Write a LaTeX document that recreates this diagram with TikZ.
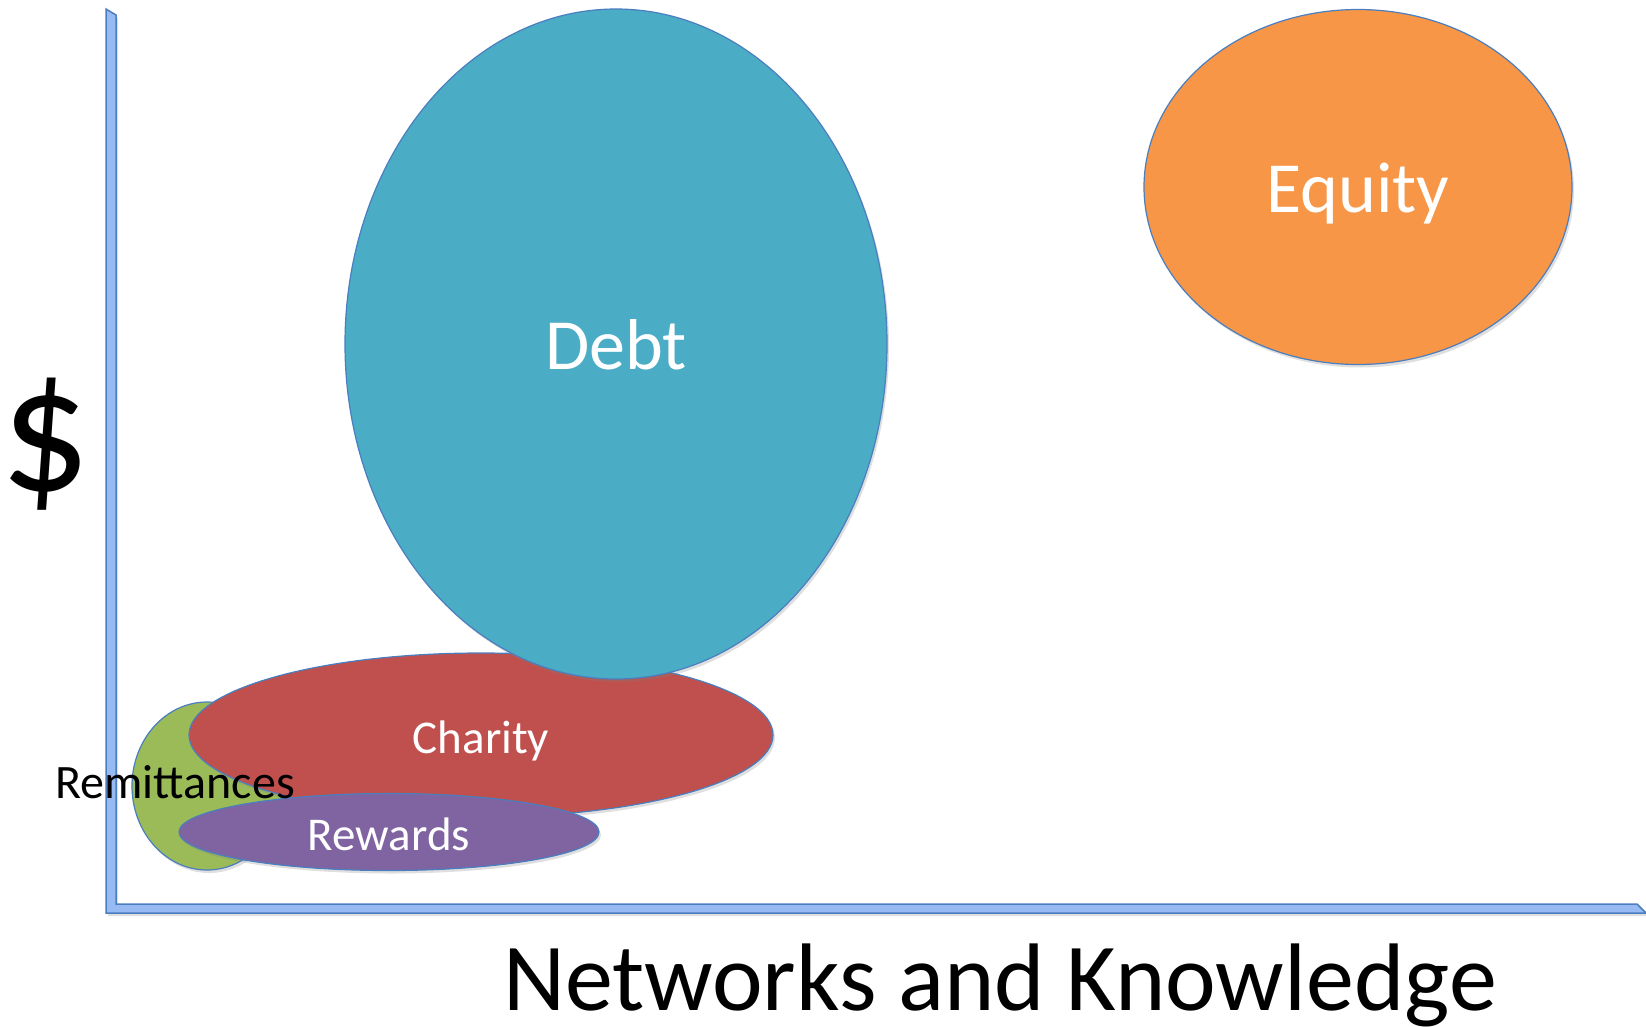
\documentclass[tikz,border=0pt]{standalone}
\usepackage{fontspec}
\setmainfont{Carlito}
\usetikzlibrary{shapes.geometric,shadows}
\definecolor{axisfill}{HTML}{98BAF2}
\definecolor{outline}{HTML}{4A7EBF}
\definecolor{debtblue}{HTML}{4BACC6}
\definecolor{equityorange}{HTML}{F79646}
\definecolor{charityred}{HTML}{C0504D}
\definecolor{rewardpurple}{HTML}{8064A2}
\definecolor{remitgreen}{HTML}{9BBB59}
\begin{document}
\begin{tikzpicture}[x=1pt,y=-1pt,
    blob/.style={ellipse, draw=outline, line width=1.2pt, inner sep=0pt, text=white,
      drop shadow={opacity=0.25, shadow xshift=2pt, shadow yshift=-3pt}},
    bigtext/.style={font=\fontsize{72}{80}\selectfont, text height=51pt, text depth=0pt},
    smalltext/.style={font=\fontsize{47}{52}\selectfont, text height=37pt, text depth=0pt}]
  \useasboundingbox (0,0) rectangle (1646,1026);
  % axes
  \filldraw[fill=axisfill, draw=outline, line width=1.5pt,
    drop shadow={opacity=0.25, shadow xshift=2pt, shadow yshift=-3pt}]
    (106,9) -- (116,15) -- (116,904) -- (1637,904) -- (1646,913) -- (106,913) -- cycle;
  % funding types
  \node[blob, fill=remitgreen, minimum width=150pt, minimum height=168pt] (remit) at (207,786) {};
  \node[blob, smalltext, fill=charityred, minimum width=584pt, minimum height=164pt] (charity) at (481,735) {Charity};
  \node[blob, bigtext, fill=debtblue, minimum width=542pt, minimum height=670pt] (debt) at (616,344) {Debt};
  \node[blob, smalltext, fill=rewardpurple, minimum width=420pt, minimum height=77pt] (rewards) at (389,832) {Rewards};
  \node[blob, bigtext, fill=equityorange, minimum width=428pt, minimum height=355pt] (equity) at (1358,187) {Equity};
  \node[smalltext, anchor=base, font=\fontsize{48}{52}\selectfont] (remitlabel) at (175,798) {Remittances};
  % axis labels
  \node[font=\fontsize{178}{180}\selectfont, anchor=base] (dollar) at (46,490) {\$};
  \node[font=\fontsize{96}{100}\selectfont, anchor=base] (xlabel) at (1000,1010) {Networks and Knowledge};
\end{tikzpicture}
\end{document}
